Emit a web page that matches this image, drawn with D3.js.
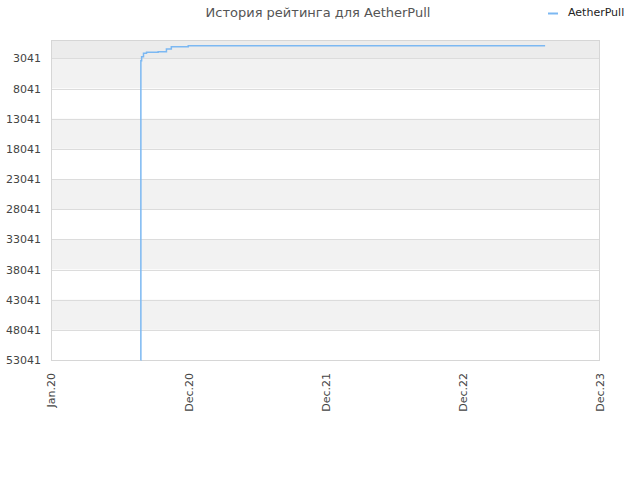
<!DOCTYPE html>
<html>
<head>
<meta charset="utf-8">
<script src="https://cdn.jsdelivr.net/npm/d3@7"></script>
<style>
body { margin: 0; background: #fff; }
text { font-family: "DejaVu Sans", sans-serif; }
</style>
</head>
<body>
<div id="chart"></div>
<script>
// data
var seriesName = "AetherPull";
var chartTitle = "История рейтинга для AetherPull";
var dates = ["2020-08-26", "2020-08-27", "2020-08-29", "2020-09-03", "2020-09-11",
    "2020-10-12", "2020-11-03", "2020-11-16", "2020-12-31", "2023-08-07"];
var ranks = [53041, 3432, 2770, 2207, 2040, 1940, 1493, 1112, 946, 946];
var yTicks = [3041, 8041, 13041, 18041, 23041, 28041, 33041, 38041, 43041, 48041, 53041];
var xLabels = ["Jan.20", "Dec.20", "Dec.21", "Dec.22", "Dec.23"];

var width = 640, height = 480;
var plotLeft = 51, plotRight = 600, plotTop = 40, plotBottom = 360;

var parse = d3.timeParse("%Y-%m-%d");
var points = dates.map((d, i) => ({date: parse(d), rank: ranks[i]}));

var svg = d3.select("#chart").append("svg")
    .attr("width", width)
    .attr("height", height);

// scales
var x = d3.scaleTime()
    .domain([parse("2020-01-01"), parse("2023-12-31")])
    .range([plotLeft, plotRight]);
var xLab = d3.scalePoint()
    .domain(xLabels)
    .range([plotLeft, plotRight]);
var y = d3.scaleLinear()
    .domain([1, 53041])
    .range([plotTop, plotBottom]);

// bands
var bounds = [1].concat(yTicks);
for (var i = 0; i < bounds.length - 1; i++) {
    svg.append("rect")
        .attr("x", plotLeft)
        .attr("y", y(bounds[i]))
        .attr("width", plotRight - plotLeft)
        .attr("height", y(bounds[i + 1]) - y(bounds[i]))
        .attr("fill", i == 0 ? "#ececec" : (i % 2 ? "#f2f2f2" : "#ffffff"));
}
// grid
svg.append("g").selectAll("line")
    .data(yTicks).enter()
    .append("line")
    .attr("x1", plotLeft).attr("x2", plotRight)
    .attr("y1", d => Math.round(y(d)) + 0.5).attr("y2", d => Math.round(y(d)) + 0.5)
    .attr("stroke", "#dcdcdc");
// frame
svg.append("rect")
    .attr("x", plotLeft + 0.5).attr("y", plotTop + 0.5)
    .attr("width", plotRight - plotLeft - 1).attr("height", plotBottom - plotTop)
    .attr("fill", "none")
    .attr("stroke", "#d6d6d6");

// y axis
var yAxis = d3.axisLeft(y).tickValues(yTicks).tickFormat(d3.format("d"))
    .tickSize(0).tickPadding(10);
var gy = svg.append("g")
    .attr("transform", "translate(" + plotLeft + ",0)")
    .call(yAxis);
gy.select(".domain").remove();
gy.selectAll("text")
    .attr("font-family", "DejaVu Sans, sans-serif")
    .attr("font-size", 11)
    .attr("fill", "#444");

// x axis
var xAxis = d3.axisBottom(xLab).tickSize(0).tickPadding(0);
var gx = svg.append("g")
    .attr("transform", "translate(0," + plotBottom + ")")
    .call(xAxis);
gx.select(".domain").remove();
gx.selectAll("text")
    .attr("font-family", "DejaVu Sans, sans-serif")
    .attr("font-size", 11)
    .attr("fill", "#444")
    .style("text-anchor", "end")
    .attr("dy", "0.35em")
    .attr("transform", "translate(0,13) rotate(-90)")
    .attr("y", 0).attr("x", 0);

// line
var line = d3.line()
    .x(d => x(d.date))
    .y(d => y(d.rank))
    .curve(d3.curveStepAfter);
svg.append("path")
    .datum(points)
    .attr("d", line)
    .attr("fill", "none")
    .attr("stroke", "#7cb8f2")
    .attr("stroke-width", 1.5);

// title
svg.append("text")
    .attr("x", 318)
    .attr("y", 17)
    .attr("text-anchor", "middle")
    .attr("font-size", 13)
    .attr("fill", "#555")
    .text(chartTitle);

// legend
svg.append("line")
    .attr("x1", 548).attr("x2", 558)
    .attr("y1", 13.5).attr("y2", 13.5)
    .attr("stroke", "#7cb8f2")
    .attr("stroke-width", 2);
svg.append("text")
    .attr("x", 568)
    .attr("y", 16)
    .attr("font-size", 11)
    .attr("fill", "#222")
    .text(seriesName);
</script>
</body>
</html>
